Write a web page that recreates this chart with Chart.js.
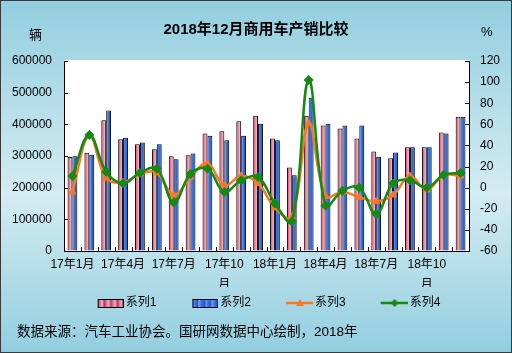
<!DOCTYPE html>
<html>
<head>
<meta charset="utf-8">
<script src="https://cdn.jsdelivr.net/npm/chart.js@4.4.0/dist/chart.umd.min.js"></script>
<style>
    html, body { margin: 0; padding: 0; background: #fff; }
    #wrap { position: relative; width: 512px; height: 353px; }
    .txt {
        position: absolute;
        font-family: Arial, "Liberation Sans", "Noto Sans CJK SC", sans-serif;
        color: #000;
        white-space: nowrap;
        line-height: 1;
    }
</style>
</head>
<body>
<div id="wrap">
    <canvas id="salesChart"></canvas>
    <div class="txt" style="left:29px; top:28px; font-size:13px;">辆</div>
    <div class="txt" style="left:481px; top:25px; font-size:13px;">%</div>
    <div class="txt" style="left:17px; top:325px; font-size:13.5px;">数据来源：汽车工业协会。国研网数据中心绘制，2018年</div>
</div>

<script>
const FONT = 'Arial, "Liberation Sans", "Noto Sans CJK SC", sans-serif';

// Data
const months = [
    '17年1月', '17年2月', '17年3月', '17年4月', '17年5月', '17年6月',
    '17年7月', '17年8月', '17年9月', '17年10月', '17年11月', '17年12月',
    '18年1月', '18年2月', '18年3月', '18年4月', '18年5月', '18年6月',
    '18年7月', '18年8月', '18年9月', '18年10月', '18年11月', '18年12月'
];
const xTickText = [
    '17年1月', '', '', '17年4月', '', '', '17年7月', '', '', ['17年10', '月'], '', '',
    '18年1月', '', '', '18年4月', '', '', '18年7月', '', '', ['18年10', '月'], '', ''
];
const series1 = [297000, 310000, 413000, 353000, 337000, 321000, 299000, 302000, 371000, 378000, 410000, 427000,
                 355000, 264000, 427000, 396000, 387000, 355000, 314000, 293000, 328000, 328000, 374000, 424000];
const series2 = [299000, 304000, 444000, 358000, 343000, 337000, 290000, 308000, 364000, 350000, 364000, 402000,
                 350000, 239000, 484000, 402000, 396000, 396000, 298000, 311000, 328000, 328000, 371000, 424000];
const series3 = [-4, 49, 9, 5, 13, 14, -7, 10, 23, 2, 11, 4,
                 -19, -28, 61, -8, -4, -9, -13, -7, 11, -2, 12, 11];
const series4 = [11, 50, 15, 4, 14, 18, -14, 13, 18, -4, 7, 10,
                 -15, -32, 102, -17, -3, 0, -25, 4, 7, 0, 12, 14];
const leftAxis = { min: 0, max: 600000, step: 100000 };
const rightAxis = { min: -60, max: 120, step: 20 };

const CAT_PCT = 0.58;
const s1Stops = ['#A8385C', '#E2708E', '#F4AFC2', '#C24C6E'];
const s2Stops = ['#7FA6F4', '#3F78EA', '#2B60DA', '#244FC0'];
const orange = '#F77A22';
const green = '#138A13';

// horizontal gradient across one bar, bar position taken from the x scale
function barFill(ctx, stops, side) {
    const chart = ctx.chart;
    const x = chart.scales.x;
    if (ctx.type !== 'data' || !x || !chart.chartArea) return stops[1];
    const bw = x.width / months.length * CAT_PCT / 2;
    const c = x.getPixelForValue(ctx.dataIndex);
    const left = side === 0 ? c - bw : c;
    const g = chart.ctx.createLinearGradient(left, 0, left + bw, 0);
    stops.forEach((s, i) => g.addColorStop(i / (stops.length - 1), s));
    return g;
}

// legend icons (drawn at the right end of a wider canvas so the text sits close)
const ICON_W = 56;
function makeIcon(draw) {
    const c = document.createElement('canvas');
    c.width = ICON_W;
    c.height = 12;
    draw(c.getContext('2d'));
    return c;
}
function barIcon(stops) {
    return makeIcon(g => {
        const gr = g.createLinearGradient(30, 0, 56, 0);
        for (let k = 0; k < 4; k++) {
            stops.forEach((s, i) => gr.addColorStop((k + i / (stops.length - 1) * 0.999) / 4, s));
        }
        g.fillStyle = gr;
        g.fillRect(30.5, 2.5, 25, 8);
        g.strokeStyle = '#000';
        g.lineWidth = 1;
        g.strokeRect(30.5, 2.5, 25, 8);
    });
}
function lineIcon(color, marker) {
    return makeIcon(g => {
        g.strokeStyle = color;
        g.fillStyle = color;
        g.lineWidth = 2.5;
        g.beginPath();
        g.moveTo(29, 6);
        g.lineTo(56, 6);
        g.stroke();
        g.beginPath();
        if (marker === 'triangle') {
            g.moveTo(43, 2);
            g.lineTo(47, 9);
            g.lineTo(39, 9);
        } else {
            g.moveTo(43, 2);
            g.lineTo(47, 6);
            g.lineTo(43, 10);
            g.lineTo(39, 6);
        }
        g.closePath();
        g.fill();
    });
}
const legendIcons = [barIcon(s1Stops), barIcon(s2Stops), lineIcon(orange, 'triangle'), lineIcon(green, 'diamond')];

// page background, border and white plot area
const backgroundPlugin = {
    id: 'backgroundPlugin',
    beforeDraw(chart) {
        const { ctx, width, height, chartArea } = chart;
        ctx.save();
        const g = ctx.createLinearGradient(0, 0, 0, height);
        g.addColorStop(0, '#92CEDF');
        g.addColorStop(0.55, '#D4ECF2');
        g.addColorStop(1, '#92CEDF');
        ctx.fillStyle = g;
        ctx.fillRect(0, 0, width, height);
        ctx.strokeStyle = '#3A3A3A';
        ctx.lineWidth = 1;
        ctx.strokeRect(0.5, 0.5, width - 1, height - 1);
        ctx.fillStyle = '#fff';
        ctx.fillRect(chartArea.left, chartArea.top - 1, chartArea.width, chartArea.height + 1);
        ctx.restore();
    }
};

// Excel style tick marks pointing into the plot
const insideTicks = {
    id: 'insideTicks',
    afterDraw(chart) {
        const { ctx, chartArea: a, scales } = chart;
        ctx.save();
        ctx.strokeStyle = '#000';
        ctx.lineWidth = 1;
        ctx.beginPath();
        scales.y.ticks.forEach(t => {
            const py = Math.round(scales.y.getPixelForValue(t.value)) + 0.5;
            ctx.moveTo(a.left, py);
            ctx.lineTo(a.left + 4, py);
        });
        scales.y1.ticks.forEach(t => {
            const py = Math.round(scales.y1.getPixelForValue(t.value)) + 0.5;
            ctx.moveTo(a.right - 4, py);
            ctx.lineTo(a.right, py);
        });
        const n = months.length;
        for (let i = 0; i <= n; i++) {
            const px = Math.round(a.left + i * a.width / n) + 0.5;
            ctx.moveTo(px, a.bottom);
            ctx.lineTo(px, a.bottom - 4);
        }
        ctx.stroke();
        ctx.restore();
    }
};

const axisCommon = {
    grid: { display: true, drawOnChartArea: false, drawTicks: false },
    border: { display: true, color: '#000', width: 1 }
};

new Chart(document.getElementById('salesChart'), {
    data: {
        labels: months,
        datasets: [
            {
                type: 'bar',
                label: '系列1',
                data: series1,
                yAxisID: 'y',
                order: 2,
                backgroundColor: ctx => barFill(ctx, s1Stops, 0),
                borderColor: '#000',
                borderWidth: 1,
                categoryPercentage: CAT_PCT,
                barPercentage: 1
            },
            {
                type: 'bar',
                label: '系列2',
                data: series2,
                yAxisID: 'y',
                order: 2,
                backgroundColor: ctx => barFill(ctx, s2Stops, 1),
                borderColor: '#000',
                borderWidth: 1,
                categoryPercentage: CAT_PCT,
                barPercentage: 1
            },
            {
                type: 'line',
                label: '系列3',
                data: series3,
                yAxisID: 'y1',
                order: 1,
                borderColor: orange,
                backgroundColor: orange,
                borderWidth: 2.5,
                tension: 0.4,
                pointStyle: 'triangle',
                pointRadius: 4,
                pointBorderWidth: 1
            },
            {
                type: 'line',
                label: '系列4',
                data: series4,
                yAxisID: 'y1',
                order: 0,
                borderColor: green,
                backgroundColor: green,
                borderWidth: 2.5,
                tension: 0.4,
                pointStyle: 'rectRot',
                pointRadius: 4.5,
                pointBorderWidth: 1
            }
        ]
    },
    options: {
        responsive: true,
        maintainAspectRatio: false,
        animation: false,
        layout: { padding: { left: 0, right: 0, top: 0, bottom: 34 } },
        scales: {
            x: {
                ...axisCommon,
                offset: true,
                ticks: {
                    autoSkip: false,
                    maxRotation: 0,
                    minRotation: 0,
                    padding: 4,
                    color: '#000',
                    font: { family: FONT, size: 12, lineHeight: 1.65 },
                    callback: (v, i) => xTickText[i]
                },
                afterFit: s => { s.height = 36; }
            },
            y: {
                ...axisCommon,
                position: 'left',
                min: leftAxis.min,
                max: leftAxis.max,
                ticks: {
                    stepSize: leftAxis.step,
                    padding: 12,
                    color: '#000',
                    font: { family: FONT, size: 12 },
                    callback: v => String(v)
                },
                afterFit: s => { s.width = 64; }
            },
            y1: {
                ...axisCommon,
                position: 'right',
                min: rightAxis.min,
                max: rightAxis.max,
                ticks: {
                    stepSize: rightAxis.step,
                    padding: 11,
                    color: '#000',
                    font: { family: FONT, size: 12 },
                    callback: v => String(v)
                },
                afterFit: s => { s.width = 43; }
            }
        },
        plugins: {
            title: {
                display: true,
                text: '2018年12月商用车产销比较',
                color: '#000',
                font: { family: FONT, size: 15, weight: 'bold' },
                padding: { top: 21, bottom: 22 }
            },
            legend: {
                position: 'bottom',
                labels: {
                    usePointStyle: true,
                    pointStyleWidth: 48,
                    padding: 10,
                    color: '#000',
                    font: { family: FONT, size: 12 },
                    generateLabels: chart => chart.data.datasets.map((d, i) => ({
                        text: d.label,
                        pointStyle: legendIcons[i],
                        datasetIndex: i,
                        fillStyle: 'transparent',
                        strokeStyle: 'transparent',
                        lineWidth: 0,
                        hidden: false,
                        fontColor: '#000'
                    }))
                }
            },
            tooltip: { enabled: false }
        }
    },
    plugins: [backgroundPlugin, insideTicks]
});
</script>
</body>
</html>
